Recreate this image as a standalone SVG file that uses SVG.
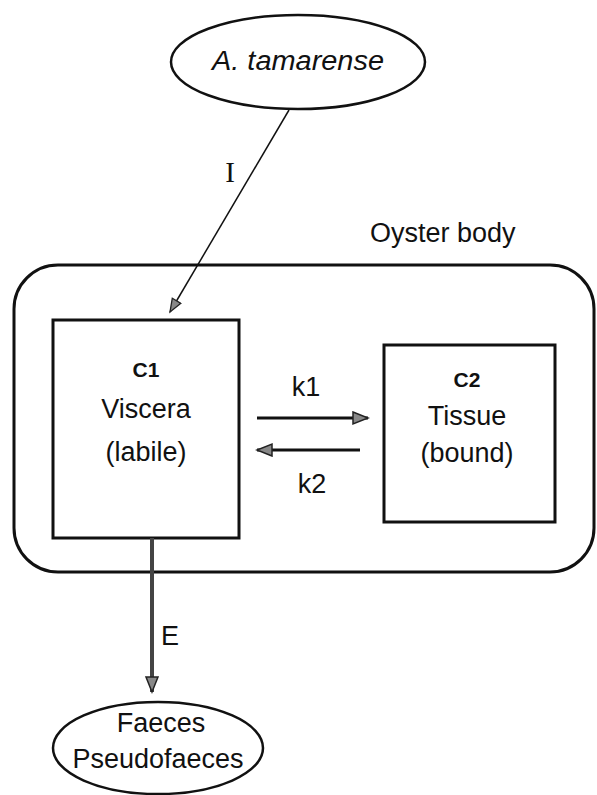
<svg xmlns="http://www.w3.org/2000/svg" width="597" height="795" viewBox="0 0 597 795">
<style>
  .t { font-family: "Liberation Sans", Arial, sans-serif; font-size: 27px; fill: #111; text-anchor: middle; }
  .b { font-family: "Liberation Sans", Arial, sans-serif; font-size: 21px; font-weight: bold; fill: #111; text-anchor: middle; }
  .box { fill: none; stroke: #111; stroke-width: 3; }
  .ell { fill: none; stroke: #111; stroke-width: 2.5; }
  .conn { fill: none; stroke: #111; stroke-width: 3; }
</style>
<defs>
  <marker id="ah" markerUnits="userSpaceOnUse" markerWidth="18" markerHeight="16" refX="16" refY="7" orient="auto">
    <path d="M1,1 L16,7 L1,13 z" fill="#888" stroke="#222" stroke-width="1.5"/>
  </marker>
  <marker id="ahs" markerUnits="userSpaceOnUse" markerWidth="16" markerHeight="14" refX="14" refY="6" orient="auto">
    <path d="M1,1 L14,6 L1,11 z" fill="#888" stroke="#222" stroke-width="1.3"/>
  </marker>
</defs>
<rect width="597" height="795" fill="#fff"/>

<g id="oyster-body">
  <rect class="box" x="14" y="265" width="580" height="307" rx="44" ry="44"/>
  <text class="t" x="370" y="242" style="text-anchor:start">Oyster body</text>
</g>

<g id="a-tamarense">
  <ellipse class="ell" cx="298" cy="62" rx="127" ry="47"/>
  <text class="t" x="298" y="70" style="font-style:italic" textLength="172" lengthAdjust="spacingAndGlyphs">A. tamarense</text>
</g>

<g id="c1">
  <rect class="box" x="53" y="320" width="186" height="218"/>
  <text class="b" x="146" y="377">C1</text>
  <text class="t" x="146" y="418">Viscera</text>
  <text class="t" x="146" y="461">(labile)</text>
</g>

<g id="c2">
  <rect class="box" x="384" y="345" width="171" height="177"/>
  <text class="b" x="467" y="387">C2</text>
  <text class="t" x="467" y="425">Tissue</text>
  <text class="t" x="467" y="462">(bound)</text>
</g>

<g id="faeces">
  <ellipse class="ell" cx="158" cy="748" rx="105" ry="46"/>
  <text class="t" x="161" y="732">Faeces</text>
  <text class="t" x="158" y="768">Pseudofaeces</text>
</g>

<g id="connectors">
  <line x1="289" y1="110" x2="170" y2="312" stroke="#111" stroke-width="1.5" marker-end="url(#ahs)"/>
  <text x="230" y="182" style="font-family:'Liberation Serif','Times New Roman',serif;font-size:29px;fill:#111;text-anchor:middle">I</text>
  <line class="conn" x1="257" y1="418" x2="368" y2="418" marker-end="url(#ah)"/>
  <text class="t" x="306" y="396">k1</text>
  <line class="conn" x1="360" y1="450" x2="257" y2="450" marker-end="url(#ah)"/>
  <text class="t" x="312" y="493">k2</text>
  <line x1="152" y1="538" x2="152" y2="692" stroke="#444" stroke-width="4" marker-end="url(#ah)"/>
  <text class="t" x="170" y="645">E</text>
</g>
</svg>
